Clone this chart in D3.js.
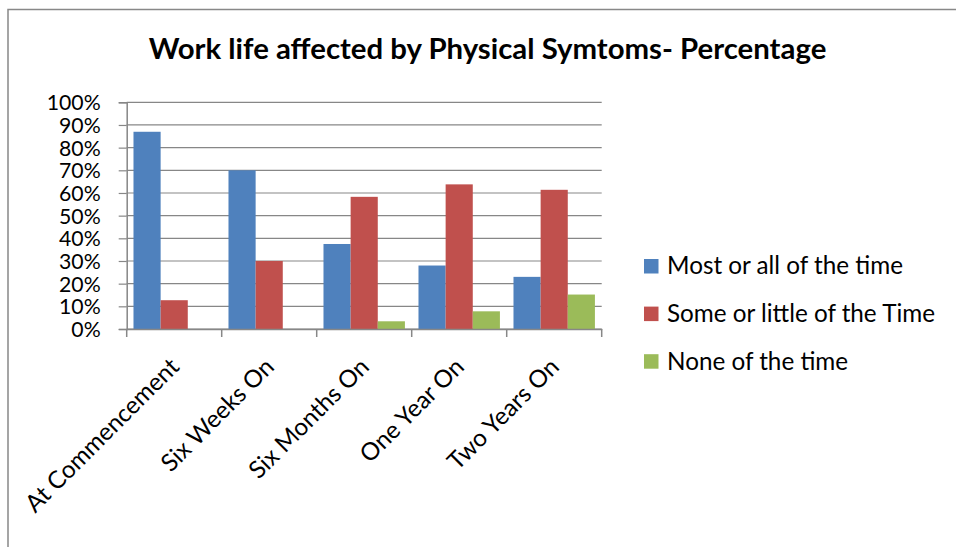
<!DOCTYPE html>
<html>
<head>
<meta charset="utf-8">
<script src="https://cdn.jsdelivr.net/npm/d3@7"></script>
<style>
  html, body { margin: 0; padding: 0; background: #fff; }
  svg { display: block; }
</style>
</head>
<body>
<svg id="chart" width="956" height="547"></svg>
<script>
const categories = ["At Commencement", "Six Weeks On", "Six Months On", "One Year On", "Two Years On"];
const seriesNames = ["Most or all of the time", "Some or little of the Time", "None of the time"];
const mostOrAll = [87, 70, 37.5, 28, 23];
const someOrLittle = [12.7, 30, 58.3, 63.8, 61.4];
const noneOfTime = [0, 0, 3.4, 7.8, 15.2];
const yTicks = [0, 10, 20, 30, 40, 50, 60, 70, 80, 90, 100];
const titleText = "Work life affected by Physical Symtoms- Percentage";

const colors = ["#4F81BD", "#C0504D", "#9BBB59"];
const seriesValues = [mostOrAll, someOrLittle, noneOfTime];
const FONT = "Lato, 'Open Sans', 'DejaVu Sans', sans-serif";

const svg = d3.select("#chart");

// chart border (extends beyond right/bottom of view)
svg.append("rect")
  .attr("x", 8).attr("y", 9.5).attr("width", 1000).attr("height", 600)
  .attr("fill", "#fff").attr("stroke", "#888").attr("stroke-width", 1.5);

const plot = { left: 126.7, right: 601.7, top: 102.3, bottom: 329 };

const x0 = d3.scaleBand().domain(categories).range([plot.left, plot.right]).paddingInner(0).paddingOuter(0);
const x1 = d3.scaleBand().domain(d3.range(seriesNames.length))
  .range([0, x0.bandwidth()]).paddingInner(0).paddingOuter(0.25);
const y = d3.scaleLinear().domain([0, 100]).range([plot.bottom, plot.top]);

// helper: fit font size so a reference string reaches a target width
function fitSize(text, weight, target) {
  const t = svg.append("text").attr("font-family", FONT).attr("font-weight", weight)
    .attr("font-size", 100).text(text);
  const w = t.node().getComputedTextLength();
  t.remove();
  return 100 * target / w;
}
const labelSize = fitSize("Some or little of the Time", "normal", 268);
const tickSize = fitSize("100%", "normal", 54);
const titleSize = fitSize(titleText, "bold", 678);

// gridlines
svg.append("g").selectAll("line").data(yTicks).join("line")
  .attr("x1", plot.left).attr("x2", plot.right)
  .attr("y1", d => y(d)).attr("y2", d => y(d))
  .attr("stroke", "#878787").attr("stroke-width", 1.2);

// bars
const groups = svg.append("g").selectAll("g").data(categories).join("g")
  .attr("transform", d => `translate(${x0(d)},0)`);
groups.selectAll("rect")
  .data((c, i) => seriesValues.map((vals, s) => ({ s, v: vals[i] })))
  .join("rect")
  .attr("x", d => x1(d.s))
  .attr("width", x1.bandwidth())
  .attr("y", d => y(d.v))
  .attr("height", d => plot.bottom - y(d.v))
  .attr("fill", d => colors[d.s]);

// y axis
const yAxis = svg.append("g").attr("transform", `translate(${plot.left},0)`)
  .call(d3.axisLeft(y).tickValues(yTicks).tickFormat(d => d + "%").tickSize(8).tickPadding(18));
yAxis.select(".domain").attr("stroke", "#878787").attr("stroke-width", 1.5);
yAxis.selectAll(".tick line").attr("stroke", "#878787").attr("stroke-width", 1.2);
yAxis.selectAll(".tick text").attr("font-family", FONT).attr("font-size", tickSize)
  .attr("fill", "#000").attr("dy", "0.36em");

// x axis
const xAxis = svg.append("g").attr("transform", `translate(0,${plot.bottom})`)
  .call(d3.axisBottom(x0).tickSize(0).tickFormat(""));
xAxis.select(".domain").attr("stroke", "#878787").attr("stroke-width", 1.5);
const tickPos = categories.map(c => x0(c)).concat([plot.right]);
svg.append("g").selectAll("line").data(tickPos).join("line")
  .attr("x1", d => d).attr("x2", d => d)
  .attr("y1", plot.bottom).attr("y2", plot.bottom + 8)
  .attr("stroke", "#878787").attr("stroke-width", 1.5);

svg.append("g").selectAll("text").data(categories).join("text")
  .attr("transform", d => `translate(${x0(d) + x0.bandwidth() / 2 - 6},${plot.bottom + 27}) rotate(-45)`)
  .attr("text-anchor", "end")
  .attr("dy", "0.72em")
  .attr("font-family", FONT).attr("font-size", labelSize).attr("fill", "#000")
  .text(d => d);

// title
svg.append("text")
  .attr("x", 487.5).attr("y", 59)
  .attr("text-anchor", "middle")
  .attr("font-family", FONT).attr("font-weight", "bold").attr("font-size", titleSize)
  .attr("fill", "#000")
  .text(titleText);

// legend
const legend = svg.append("g").selectAll("g").data(seriesNames).join("g")
  .attr("transform", (d, i) => `translate(644,${274.3 + i * 47.6})`);
legend.append("rect").attr("x", 0).attr("y", -15.3).attr("width", 14.5).attr("height", 14.5)
  .attr("fill", (d, i) => colors[i]);
legend.append("text").attr("x", 23).attr("y", 0)
  .attr("font-family", FONT).attr("font-size", labelSize).attr("fill", "#000")
  .text(d => d);
</script>
</body>
</html>
